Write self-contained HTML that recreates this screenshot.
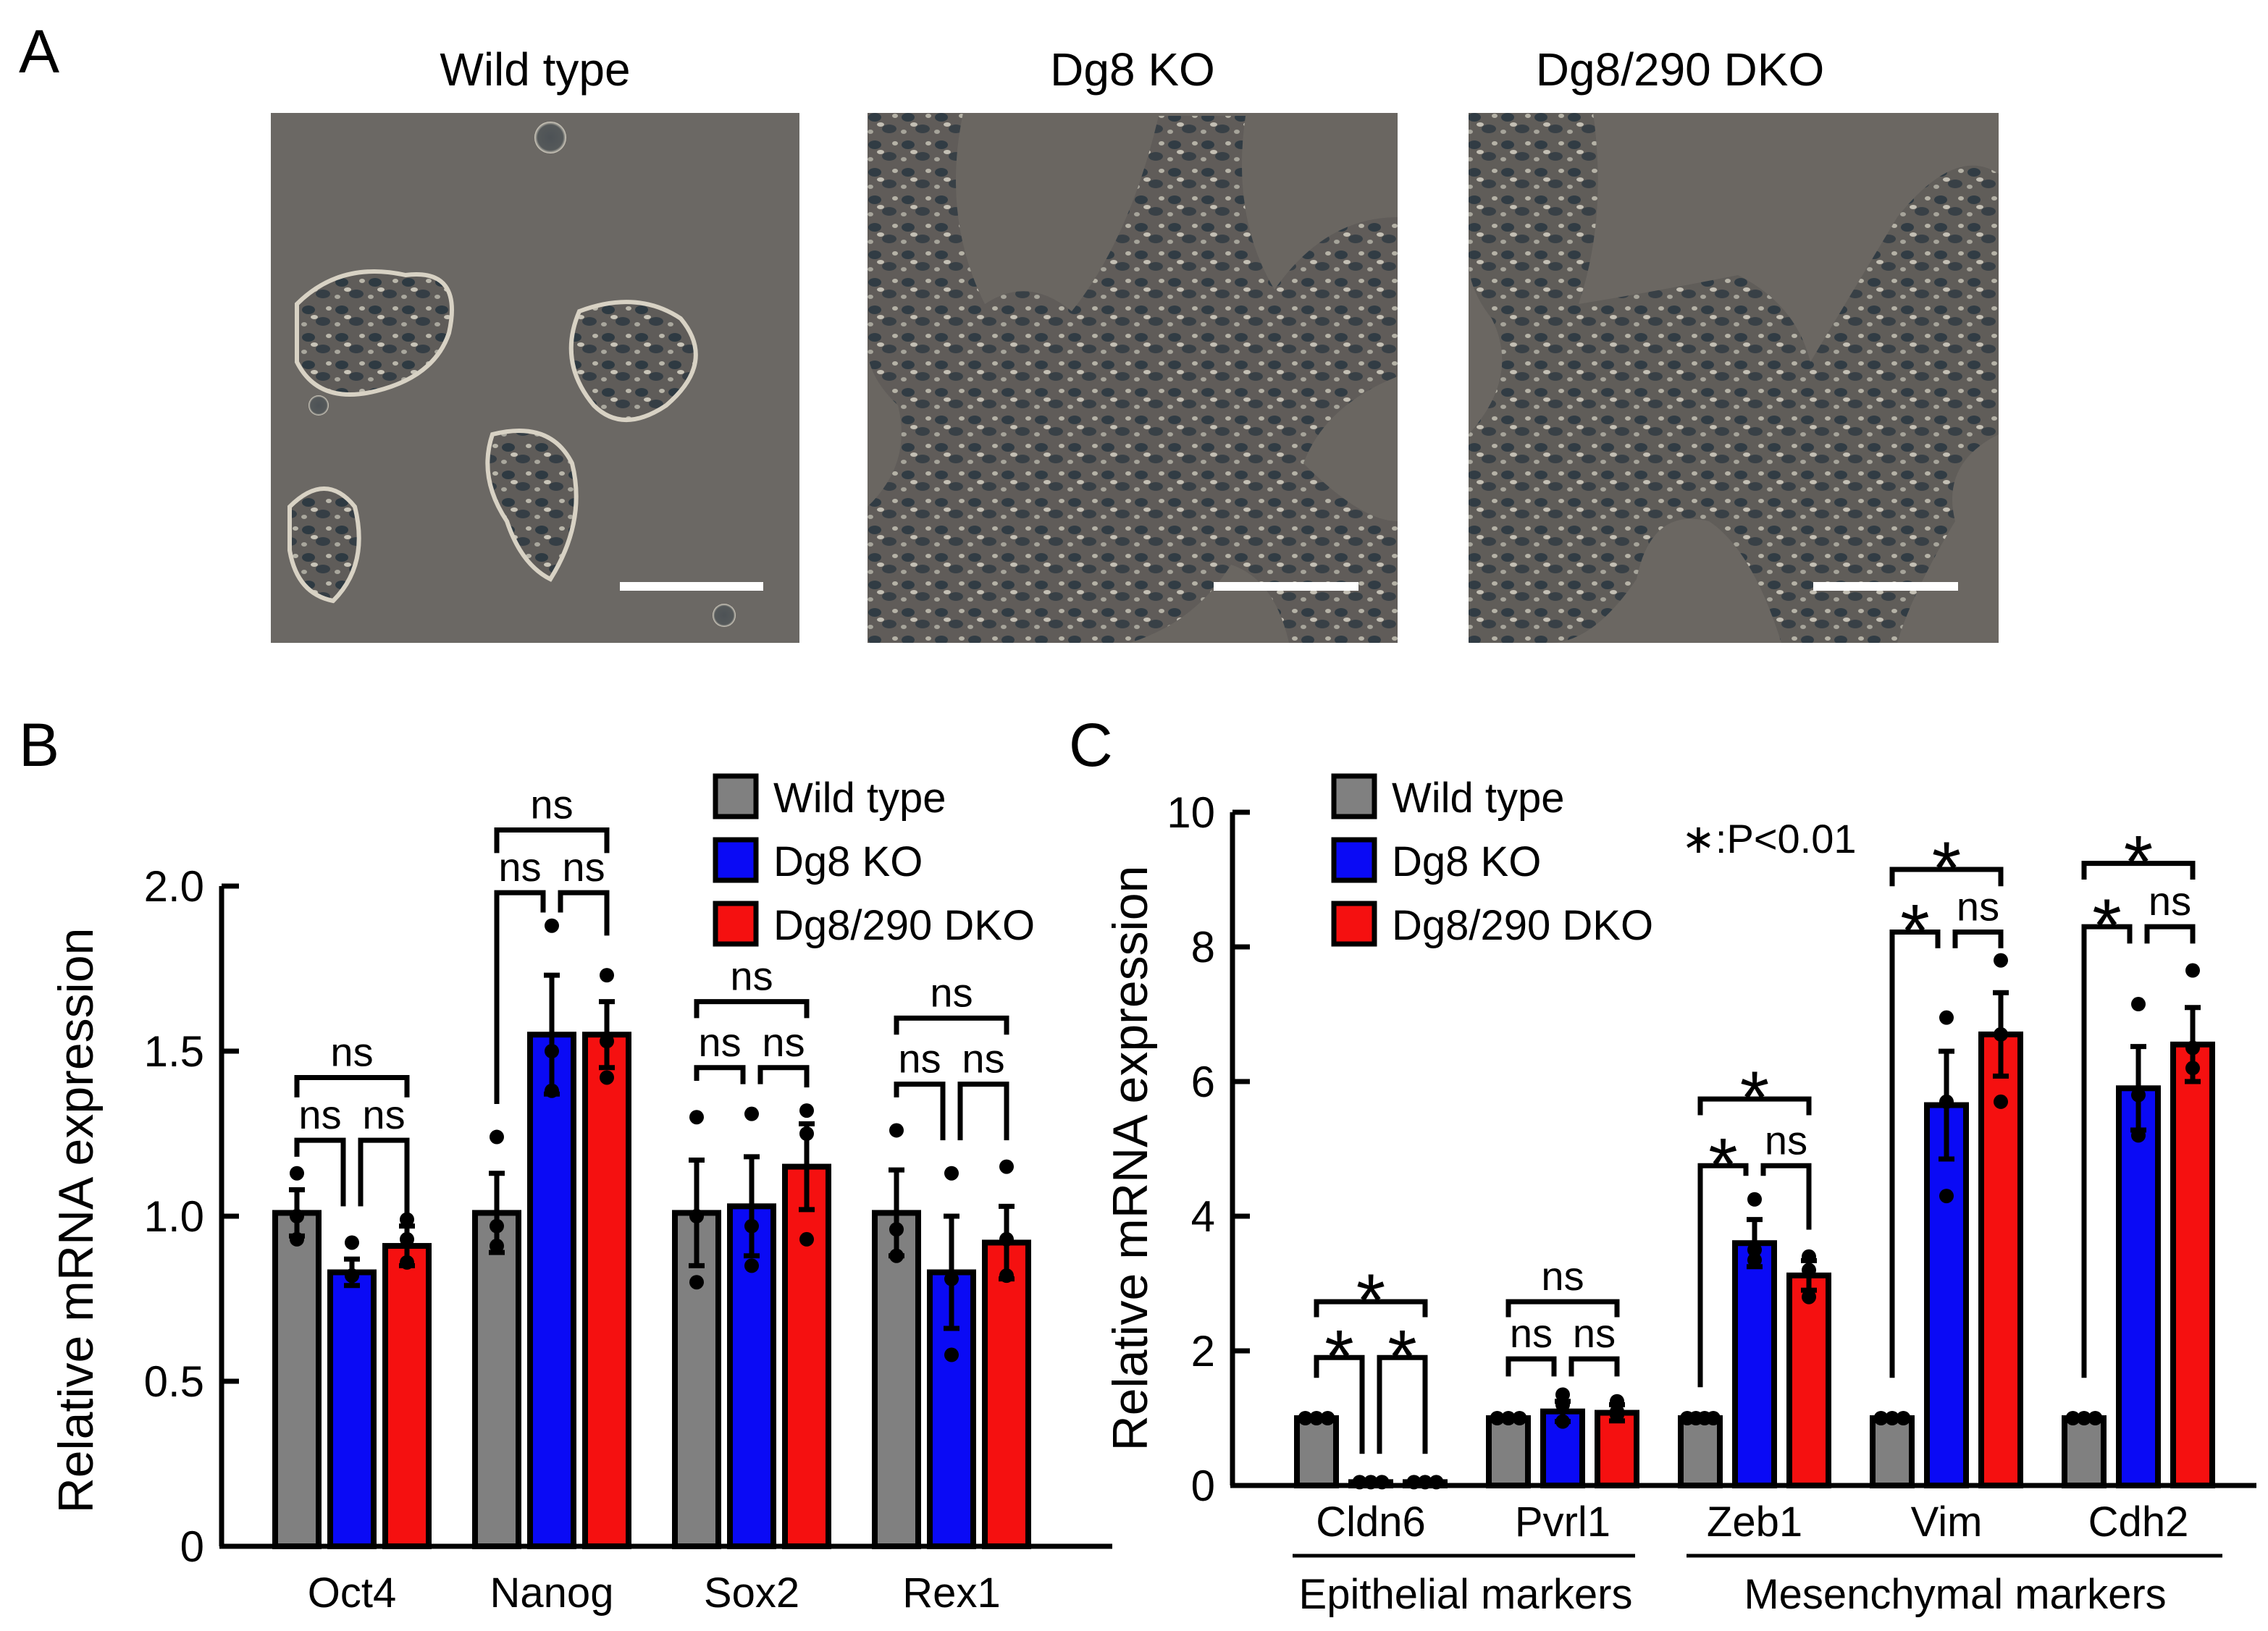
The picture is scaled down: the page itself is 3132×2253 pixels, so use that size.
<!DOCTYPE html>
<html><head><meta charset="utf-8"><style>
html,body{margin:0;padding:0;background:#fff}
svg{display:block;font-family:"Liberation Sans",Arial,sans-serif}
</style></head><body>
<svg id="fig" width="3132" height="2253" viewBox="0 0 3132 2253" xmlns="http://www.w3.org/2000/svg">
<defs>
<pattern id="cells1" width="46" height="38" patternUnits="userSpaceOnUse">
<rect width="46" height="38" fill="#5f5c59"/>
<ellipse cx="12" cy="10" rx="9" ry="6" fill="#2e3a42"/>
<ellipse cx="32" cy="26" rx="10" ry="6" fill="#353e45"/>
<ellipse cx="20" cy="20" rx="5" ry="3" fill="#c8c4b8"/>
<ellipse cx="40" cy="8" rx="4" ry="3" fill="#b9b6aa"/>
<ellipse cx="6" cy="30" rx="4" ry="3" fill="#a9a79d"/>
</pattern>
<radialGradient id="glow"><stop offset="0" stop-color="#4d5256"/><stop offset="0.8" stop-color="#55595a"/><stop offset="1" stop-color="#d8d2c4"/></radialGradient>
</defs>
<text x="26" y="100" font-size="84">A</text>
<text x="26" y="1058" font-size="84">B</text>
<text x="1476" y="1058" font-size="84">C</text>

<g>
<text x="739" y="118" font-size="64" text-anchor="middle">Wild type</text>
<rect x="374" y="156" width="730" height="732" fill="#6b6864"/>
<path d="M410 420 Q470 360 560 380 Q640 370 620 460 Q600 520 520 540 Q440 560 410 500Z" fill="url(#cells1)" stroke="#d8d2c4" stroke-width="6"/>
<path d="M800 430 Q880 400 940 440 Q990 500 920 560 Q860 600 820 560 Q770 500 800 430Z" fill="url(#cells1)" stroke="#d8d2c4" stroke-width="6"/>
<path d="M680 600 Q760 580 790 640 Q810 720 760 800 Q720 780 700 720 Q660 660 680 600Z" fill="url(#cells1)" stroke="#d8d2c4" stroke-width="6"/>
<path d="M400 700 Q450 650 490 700 Q510 780 460 830 Q410 820 400 760Z" fill="url(#cells1)" stroke="#d8d2c4" stroke-width="6"/>
<circle cx="760" cy="190" r="22" fill="url(#glow)"/><circle cx="440" cy="560" r="14" fill="url(#glow)"/><circle cx="1000" cy="850" r="16" fill="url(#glow)"/>
<rect x="856" y="804" width="198" height="12" fill="#fff"/>
</g>
<g>
<text x="1564" y="118" font-size="64" text-anchor="middle">Dg8 KO</text>
<rect x="1198" y="156" width="732" height="732" fill="#6a6661"/>
<path d="M1198 156 H1330 Q1300 300 1360 420 Q1420 380 1480 430 Q1560 330 1600 160 H1720 Q1700 300 1760 400 Q1830 300 1930 300 V520 Q1830 560 1800 640 Q1880 720 1930 720 V888 H1780 Q1760 800 1700 780 Q1650 860 1560 888 H1198 V700 Q1260 640 1240 560 Q1198 520 1198 480Z" fill="url(#cells1)" opacity="0.95"/>
<rect x="1676" y="804" width="200" height="12" fill="#fff"/>
</g>
<g>
<text x="2320" y="118" font-size="64" text-anchor="middle">Dg8/290 DKO</text>
<rect x="2028" y="156" width="732" height="732" fill="#6b6762"/>
<path d="M2028 156 H2200 Q2220 300 2180 420 Q2300 400 2400 380 Q2480 420 2500 500 Q2560 400 2620 300 Q2700 200 2760 240 V600 Q2680 640 2700 720 Q2640 820 2620 888 H2460 Q2420 760 2360 720 Q2280 700 2260 800 Q2200 888 2140 888 H2028 V600 Q2100 520 2060 440 Q2028 400 2028 360Z" fill="url(#cells1)" opacity="0.95"/>
<rect x="2504" y="804" width="200" height="12" fill="#fff"/>
</g>

<g id="chartB"></g>
<g id="chartC"></g>
</svg>
<script>
// ---- Panel B data ----
const bCategories = ["Oct4","Nanog","Sox2","Rex1"];
const bWild = [1.01, 1.01, 1.01, 1.01];
const bKO = [0.83, 1.55, 1.03, 0.83];
const bDKO = [0.91, 1.55, 1.15, 0.92];
const bWildErr = [0.07, 0.12, 0.16, 0.13];
const bKOErr = [0.04, 0.18, 0.15, 0.17];
const bDKOErr = [0.06, 0.10, 0.13, 0.11];
const bWildDots = [[1.13,1.0,0.93],[1.24,0.97,0.91],[1.30,1.0,0.80],[1.26,0.96,0.88]];
const bKODots = [[0.92,0.82,0.82],[1.88,1.50,1.38],[1.31,0.97,0.85],[1.13,0.81,0.58]];
const bDKODots = [[0.99,0.93,0.86],[1.73,1.53,1.42],[1.32,1.25,0.93],[1.15,0.93,0.82]];
const bTicks = [0, 0.5, 1.0, 1.5, 2.0];
const bTickLabels = ["0","0.5","1.0","1.5","2.0"];
const bBrGB = [[1.23,1.18,1.03],[1.98,1.34,1.92],[1.45,1.41,1.40],[1.40,1.36,1.23]];
const bBrBR = [[1.23,1.03,1.0],[1.98,1.92,1.85],[1.45,1.40,1.39],[1.40,1.23,1.23]];
const bBrGR = [[1.42,1.36,1.36],[2.17,2.10,2.10],[1.65,1.60,1.60],[1.60,1.55,1.55]];
const bSig = [["ns","ns","ns"],["ns","ns","ns"],["ns","ns","ns"],["ns","ns","ns"]];

// ---- Panel C data ----
const cCategories = ["Cldn6","Pvrl1","Zeb1","Vim","Cdh2"];
const cWild = [1, 1, 1, 1, 1];
const cKO = [0.05, 1.10, 3.60, 5.65, 5.90];
const cDKO = [0.05, 1.08, 3.12, 6.70, 6.55];
const cWildErr = [0, 0, 0, 0, 0];
const cKOErr = [0, 0.15, 0.35, 0.80, 0.62];
const cDKOErr = [0, 0.12, 0.22, 0.62, 0.55];
const cWildDots = [[1,1,1],[1,1,1],[1,1,1,1],[1,1,1],[1,1,1]];
const cKODots = [[0.05,0.05,0.05],[1.35,1.2,0.95],[4.25,3.5,3.35],[6.95,5.7,4.3],[7.15,5.8,5.2]];
const cDKODots = [[0.05,0.05,0.05],[1.25,1.05,1.1],[3.4,3.2,2.8],[7.8,6.7,5.7],[7.65,6.5,6.2]];
const cTicks = [0,2,4,6,8,10];
const cTickLabels = ["0","2","4","6","8","10"];
const cBrGB = [[1.9,1.6,0.47],[1.88,1.62,1.62],[4.75,1.46,4.6],[8.22,1.6,7.98],[8.3,1.6,8.05]];
const cBrBR = [[1.9,0.47,0.47],[1.88,1.62,1.62],[4.75,4.6,3.8],[8.22,7.98,7.98],[8.3,8.05,8.05]];
const cBrGR = [[2.73,2.5,2.5],[2.73,2.5,2.5],[5.74,5.5,5.5],[9.15,8.9,8.9],[9.24,9.0,9.0]];
const cSig = [["*","*","*"],["ns","ns","ns"],["*","ns","*"],["*","ns","*"],["*","ns","*"]];

const NS = "http://www.w3.org/2000/svg";
function mk(tag, attrs, parent, text){
  const e = document.createElementNS(NS, tag);
  for (const k in attrs) e.setAttribute(k, attrs[k]);
  if (text !== undefined) e.textContent = text;
  parent.appendChild(e);
  return e;
}
const COLORS = ["#808080", "#0a0af5", "#f51010"];
const SERIES = ["wild-type","dg8-ko","dg8-290-dko"];

function drawChart(g, cfg){
  const y = v => cfg.y0 - v * cfg.unit;
  const xBar = (gi, si) => cfg.firstX + gi * cfg.pitch + si * cfg.barPitch;
  const ya = mk("line", {x1:cfg.axX, y1:y(cfg.ticks[cfg.ticks.length-1]), x2:cfg.axX, y2:cfg.y0, stroke:"#000","stroke-width":7}, g);
  
  
  const xa = mk("line", {x1:cfg.axX-3, y1:cfg.y0, x2:cfg.axEnd, y2:cfg.y0, stroke:"#000","stroke-width":7}, g);
  
  
  cfg.ticks.forEach((t, i) => {
    const tk = mk("line", {x1:cfg.axX, y1:y(t), x2:cfg.axX+24, y2:y(t), stroke:"#000","stroke-width":7}, g);
    
    
    const tl = mk("text", {x:cfg.labX, y:y(t)+21, "font-size":60, "text-anchor":"end"}, g, cfg.tickLabels[i]);
    
    
  });
  const yt = mk("text", {x:0, y:0, "font-size":68, "text-anchor":"middle", transform:`translate(${cfg.titleX},${cfg.titleY}) rotate(-90)`}, g, "Relative mRNA expression");
  
  

  cfg.cats.forEach((cat, gi) => {
    const cx = xBar(gi, 1) + cfg.barW/2;
    const cl = mk("text", {x:cx, y:cfg.catY, "font-size":58, "text-anchor":"middle"}, g, cat);
    
    
    [0,1,2].forEach(si => {
      const v = cfg.vals[si][gi], e = cfg.errs[si][gi];
      const x = xBar(gi, si);
      const r = mk("rect", {x:x, y:y(v), width:cfg.barW, height:Math.max(0, cfg.y0 - y(v)), fill:COLORS[si], stroke:"#000", "stroke-width":8}, g);
      
      
      const mx = x + cfg.barW/2;
      if (e > 0) {
        const eb = mk("path", {d:`M${mx} ${y(v-e)} V${y(v+e)} M${mx-11} ${y(v+e)} H${mx+11} M${mx-11} ${y(v-e)} H${mx+11}`, stroke:"#000", "stroke-width":7, fill:"none"}, g);
        
        
      }
      const dots = cfg.dots[si][gi];
      const spread = (v < 1.05 && e === 0) ? cfg.barW/(dots.length+0.5) : 0;
      dots.forEach((d, di) => {
        const off = spread ? (di - (dots.length-1)/2) * spread : 0;
        const c = mk("circle", {cx:mx + off, cy:y(d), r:10, fill:"#000"}, g);
        
        
      });
    });
    const bl = [[0,1,cfg.brGB],[1,2,cfg.brBR],[0,2,cfg.brGR]];
    bl.forEach(([a,b,arr], k) => {
      const [top, lL, lR] = arr[gi];
      const xa1 = xBar(gi,a) + cfg.barW/2 + (k===1 ? 12 : 0);
      const xb1 = xBar(gi,b) + cfg.barW/2 - (k===0 ? 12 : 0);
      const br = mk("path", {d:`M${xa1} ${y(lL)} V${y(top)} H${xb1} V${y(lR)}`, stroke:"#000", "stroke-width":7, fill:"none"}, g);
      
      
      const s = cfg.sig[gi][k];
      const tx = (xa1 + xb1)/2;
      let t;
      if (s === "*") t = mk("text", {x:tx, y:y(top) + 34, "font-size":104, "text-anchor":"middle"}, g, "*");
      else t = mk("text", {x:tx, y:y(top) - 16, "font-size":56, "text-anchor":"middle"}, g, s);
      
      
    });
  });
  ["Wild type","Dg8 KO","Dg8/290 DKO"].forEach((lab, i) => {
    const ly = cfg.legY + i*88;
    const sq = mk("rect", {x:cfg.legX, y:ly, width:56, height:56, fill:COLORS[i], stroke:"#000", "stroke-width":7}, g);
    
    
    const lt = mk("text", {x:cfg.legX+80, y:ly+50, "font-size":58}, g, lab);
    
    
  });
}

drawChart(document.getElementById("chartB"), {
  y0:2136, unit:456, axX:306, axEnd:1536, labX:282, titleX:128, titleY:1686, catY:2220,
  firstX:380, pitch:276, barPitch:76, barW:60,
  cats:bCategories, vals:[bWild,bKO,bDKO], errs:[bWildErr,bKOErr,bDKOErr],
  dots:[bWildDots,bKODots,bDKODots], ticks:bTicks, tickLabels:bTickLabels,
  brGB:bBrGB, brBR:bBrBR, brGR:bBrGR, sig:bSig, legX:988, legY:1072
});
drawChart(document.getElementById("chartC"), {
  y0:2052, unit:93, axX:1702, axEnd:3116, labX:1678, titleX:1584, titleY:1600, catY:2122,
  firstX:1791, pitch:265, barPitch:75, barW:54,
  cats:cCategories, vals:[cWild,cKO,cDKO], errs:[cWildErr,cKOErr,cDKOErr],
  dots:[cWildDots,cKODots,cDKODots], ticks:cTicks, tickLabels:cTickLabels,
  brGB:cBrGB, brBR:cBrBR, brGR:cBrGR, sig:cSig, legX:1842, legY:1072
});
(function(){
  const g = document.getElementById("chartC");
  const n = mk("text", {x:2322, y:1178, "font-size":56}, g, "∗:P<0.01");
  
  
  const l1 = mk("line", {x1:1785, y1:2149, x2:2258, y2:2149, stroke:"#000", "stroke-width":5}, g);
  
  
  const l2 = mk("line", {x1:2329, y1:2149, x2:3069, y2:2149, stroke:"#000", "stroke-width":5}, g);
  
  
  const t1 = mk("text", {x:2024, y:2222, "font-size":58, "text-anchor":"middle"}, g, "Epithelial markers");
  
  
  const t2 = mk("text", {x:2700, y:2222, "font-size":58, "text-anchor":"middle"}, g, "Mesenchymal markers");
  
  
})();
</script>
</body></html>
